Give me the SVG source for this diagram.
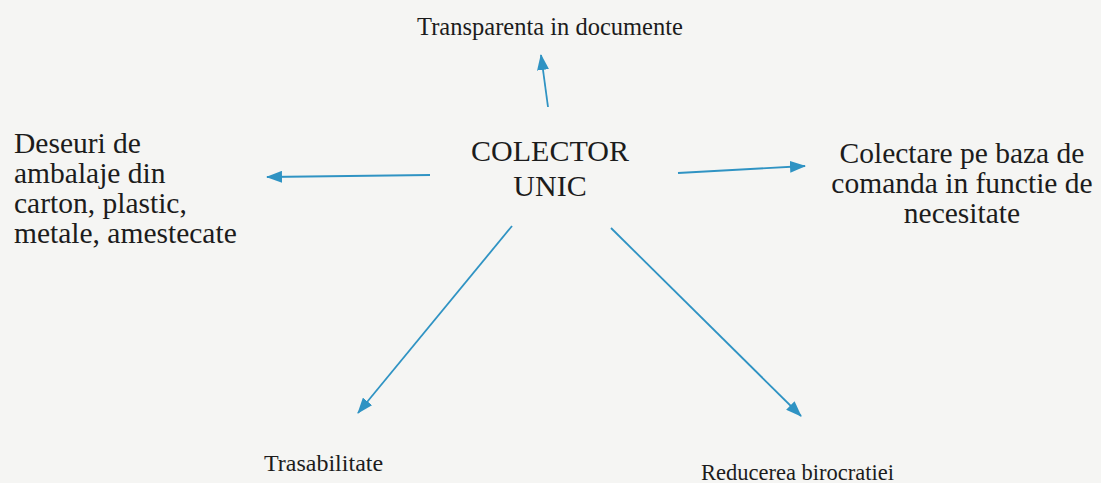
<svg xmlns="http://www.w3.org/2000/svg" width="1101" height="483" viewBox="0 0 1101 483">
  <style>
    .t { font-family: "Liberation Serif", "Times New Roman", serif; fill: #1c1c1c; }
    .c { stroke: #2f93c3; stroke-width: 1.8; fill: none; }
  </style>
  <defs>
    <marker id="ah" viewBox="0 0 16 12" refX="15" refY="6" markerWidth="16" markerHeight="12" markerUnits="userSpaceOnUse" orient="auto">
      <path d="M0,0 L16,6 L0,12 Z" fill="#2f93c3"/>
    </marker>
  </defs>
  <rect width="1101" height="483" fill="#f5f5f3"/>
  <g id="connectors">
    <line class="c" x1="548" y1="107" x2="541" y2="55" marker-end="url(#ah)"/>
    <line class="c" x1="430" y1="175" x2="267" y2="177" marker-end="url(#ah)"/>
    <line class="c" x1="678" y1="173" x2="805" y2="166" marker-end="url(#ah)"/>
    <line class="c" x1="512" y1="226" x2="358" y2="413" marker-end="url(#ah)"/>
    <line class="c" x1="611" y1="228" x2="801" y2="416" marker-end="url(#ah)"/>
  </g>
  <g id="center">
    <text class="t" x="550" y="161" font-size="30" text-anchor="middle">COLECTOR</text>
    <text class="t" x="550" y="196" font-size="30" text-anchor="middle">UNIC</text>
  </g>
  <g id="top">
    <text class="t" x="550" y="35" font-size="24.5" text-anchor="middle">Transparenta in documente</text>
  </g>
  <g id="left">
    <text class="t" x="14" y="153" font-size="29.5">Deseuri de</text>
    <text class="t" x="14" y="183" font-size="29.5">ambalaje din</text>
    <text class="t" x="14" y="213" font-size="29.5">carton, plastic,</text>
    <text class="t" x="14" y="243" font-size="29.5">metale, amestecate</text>
  </g>
  <g id="right">
    <text class="t" x="962" y="163" font-size="29.5" text-anchor="middle">Colectare pe baza de</text>
    <text class="t" x="962" y="193" font-size="29.5" text-anchor="middle">comanda in functie de</text>
    <text class="t" x="962" y="223" font-size="29.5" text-anchor="middle">necesitate</text>
  </g>
  <g id="bottom-left">
    <text class="t" x="264" y="471" font-size="24">Trasabilitate</text>
  </g>
  <g id="bottom-right">
    <text class="t" x="701" y="480" font-size="22.5">Reducerea birocratiei</text>
  </g>
</svg>
